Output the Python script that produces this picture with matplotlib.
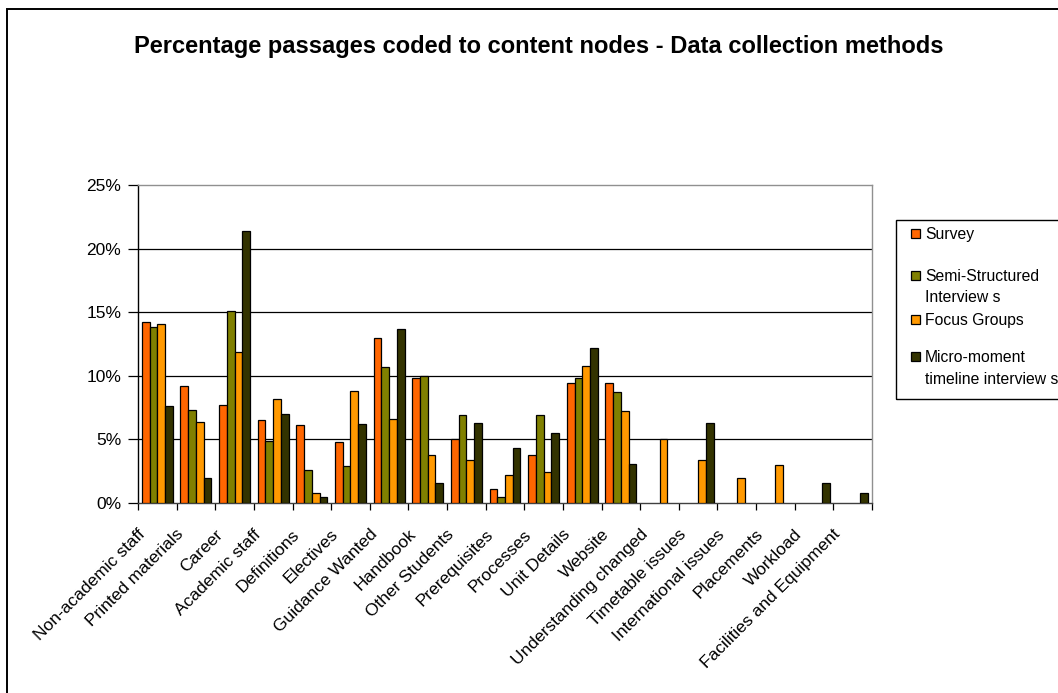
import matplotlib
matplotlib.use("Agg")
import matplotlib.pyplot as plt
import matplotlib.transforms as mtransforms
from matplotlib.patches import Rectangle
import numpy as np

plt.rcParams['font.family'] = ['Liberation Sans', 'DejaVu Sans']

categories = [
    "Non-academic staff", "Printed materials", "Career", "Academic staff",
    "Definitions", "Electives", "Guidance Wanted", "Handbook",
    "Other Students", "Prerequisites", "Processes", "Unit Details",
    "Website", "Understanding changed", "Timetable issues",
    "International issues", "Placements", "Workload",
    "Facilities and Equipment",
]

# Percentage of passages coded to each node, per data collection method
survey = [14.2, 9.2, 7.7, 6.5, 6.1, 4.8, 13.0, 9.8, 5.0, 1.1, 3.8, 9.4,
          9.4, 0, 0, 0, 0, 0, 0]
semi_structured = [13.8, 7.3, 15.1, 4.9, 2.6, 2.9, 10.7, 10.0, 6.9, 0.45,
                   6.9, 9.8, 8.7, 0, 0, 0, 0, 0, 0]
focus_groups = [14.1, 6.4, 11.9, 8.2, 0.8, 8.8, 6.6, 3.8, 3.4, 2.2, 2.4,
                10.8, 7.2, 5.0, 3.4, 2.0, 3.0, 0, 0]
micro_moment = [7.6, 2.0, 21.4, 7.0, 0.45, 6.2, 13.7, 1.6, 6.3, 4.3, 5.5,
                12.2, 3.1, 0, 6.3, 0, 0, 1.6, 0.8]

series_names = ["Survey", "Semi-Structured\nInterview s", "Focus Groups",
                "Micro-moment\ntimeline interview s"]
series_values = [survey, semi_structured, focus_groups, micro_moment]
series_colors = ["#FF6600", "#808000", "#FF9900", "#333300"]

W, H = 1058, 693
fig = plt.figure(figsize=(W / 100, H / 100), dpi=100)
fig.patch.set_facecolor("white")

# chart area border (runs off the right and bottom edges)
fig.patches.append(Rectangle((7 / W, -0.05), 1.2, 1 - 9 / H + 0.05,
                             transform=fig.transFigure, fill=False,
                             edgecolor="black", linewidth=1.4, zorder=0))

left, right, top, bottom = 138, 872, 185, 503
ax = fig.add_axes([left / W, 1 - bottom / H, (right - left) / W,
                   (bottom - top) / H])

n = len(categories)
x = np.arange(n)
bw = 0.2
for i, (vals, col) in enumerate(zip(series_values, series_colors)):
    vals = np.array(vals, dtype=float)
    mask = vals > 0
    ax.bar(x[mask] + (i - 1.5) * bw, vals[mask], width=bw, color=col,
           edgecolor="black", linewidth=0.9, zorder=3)

ax.set_xlim(-0.5, n - 0.5)
ax.set_ylim(0, 25)
ax.set_yticks([0, 5, 10, 15, 20, 25])
ax.set_yticklabels([f"{v}%" for v in [0, 5, 10, 15, 20, 25]], fontsize=12.5)
for g in [5, 10, 15, 20]:
    ax.axhline(g, color="black", linewidth=0.9, zorder=1)

ax.set_xticks(np.arange(-0.5, n, 1.0), minor=True)
ax.tick_params(axis="x", which="minor", length=5, width=0.9, color="black")
ax.tick_params(axis="y", length=7, width=0.9, color="black", pad=5)
ax.tick_params(axis="x", which="major", length=0, pad=0)

ax.set_xticks(x)
labels = ax.set_xticklabels(categories, rotation=45, ha="right", va="center",
                            rotation_mode="anchor", fontsize=12.5)
offset = mtransforms.ScaledTranslation(-14.5 / 100, -29 / 100, fig.dpi_scale_trans)
for lab in labels:
    lab.set_transform(lab.get_transform() + offset)

for side in ["top", "right"]:
    ax.spines[side].set_color("#909090")
    ax.spines[side].set_linewidth(1.0)
ax.spines["left"].set_color("black")
ax.spines["bottom"].set_color("#404040")
ax.spines["left"].set_linewidth(1.0)
ax.spines["bottom"].set_linewidth(1.0)

fig.text(539 / W, 1 - 47 / H,
         "Percentage passages coded to content nodes - Data collection methods",
         ha="center", va="center", fontsize=17, fontweight="bold")

# legend box, drawn in pixel positions so it can run past the right edge
fig.patches.append(Rectangle((896 / W, 1 - 399 / H), 0.3, (399 - 220) / H,
                             transform=fig.transFigure, fill=False,
                             edgecolor="black", linewidth=1.0, zorder=5))
entry_y = [233, 275, 319, 356]
for name, col, yy in zip(series_names, series_colors, entry_y):
    fig.patches.append(Rectangle((911 / W, 1 - (yy + 4.5) / H), 8.5 / W,
                                 9 / H, transform=fig.transFigure,
                                 facecolor=col, edgecolor="black",
                                 linewidth=0.9, zorder=6))
    fig.text(925 / W, 1 - (yy - 5.5) / H, name, ha="left", va="top",
             fontsize=11.3, linespacing=1.5)

fig.savefig("out.png", dpi=100)
